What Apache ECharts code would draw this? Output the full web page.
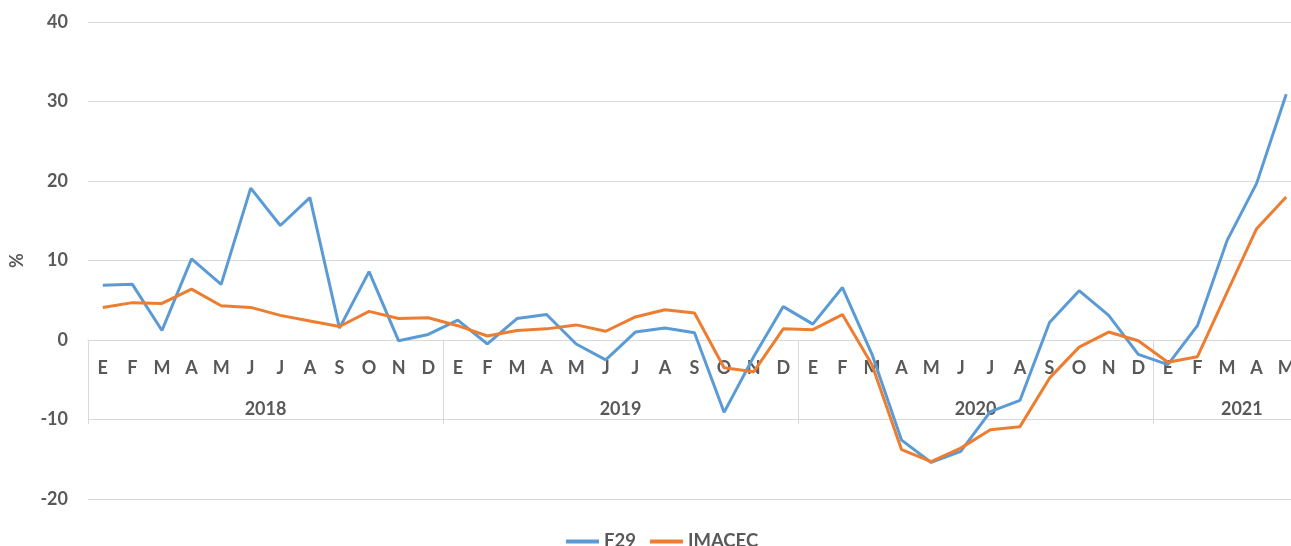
<!DOCTYPE html>
<html>
<head>
<meta charset="utf-8">
<title>F29 vs IMACEC</title>
<script src="https://cdn.jsdelivr.net/npm/echarts@6/dist/echarts.min.js"></script>
<style>
  html, body {
    margin: 0;
    padding: 0;
    background: #fff;
  }
  #char {
    width: 1291px;
    height: 546px;
  }
</style>
</head>
<body>
<div id="char"></div>
<script>
// meses (E = enero ... D = diciembre)
const monthLabels = [
  'E', 'F', 'M', 'A', 'M', 'J', 'J', 'A', 'S', 'O', 'N', 'D',
  'E', 'F', 'M', 'A', 'M', 'J', 'J', 'A', 'S', 'O', 'N', 'D',
  'E', 'F', 'M', 'A', 'M', 'J', 'J', 'A', 'S', 'O', 'N', 'D',
  'E', 'F', 'M', 'A', 'M'
]
const yearLabels = ['2018', '2019', '2020', '2021']
const yearSpans = [12, 12, 12, 5]

const f29 = [
  6.9, 7.0, 1.2, 10.2, 7.0, 19.1, 14.4, 17.9, 1.5, 8.6, -0.1, 0.7,
  2.5, -0.5, 2.7, 3.2, -0.5, -2.5, 1.0, 1.5, 0.9, -9.1, -2.1, 4.2,
  2.0, 6.6, -1.8, -12.6, -15.4, -14.0, -9.0, -7.6, 2.2, 6.2, 3.1, -1.8,
  -3.1, 1.8, 12.5, 19.7, 30.9
]
const imacec = [
  4.1, 4.7, 4.6, 6.4, 4.3, 4.1, 3.1, 2.4, 1.7, 3.6, 2.7, 2.8,
  1.8, 0.5, 1.2, 1.4, 1.9, 1.1, 2.9, 3.8, 3.4, -3.5, -4.0, 1.4,
  1.3, 3.2, -3.1, -13.8, -15.3, -13.6, -11.3, -10.9, -4.8, -0.9, 1.0, -0.1,
  -2.8, -2.1, 6.0, 14.0, 18.0
]

const yTicks = { min: -20, max: 40, interval: 10 }

// where each year starts and where its label goes
let yearStart = {}, yearMid = {}, pos = 0
yearSpans.forEach((n, i) => {
  yearStart[pos] = yearLabels[i]
  yearMid[pos + Math.floor((n - 1) / 2)] = yearLabels[i]
  pos += n
})
const cats = monthLabels.map((m, i) => i + '_' + m)

const txtColor = '#595959'
const gridColor = '#d9d9d9'
const font = 'Lato, "Open Sans", sans-serif'
const fs = 18

const gridH = 477
const gridW = 1213
const catW = gridW / monthLabels.length
// the category axes sit on the 0 line, moved up from the bottom of the grid
const zeroOffset = -gridH * (0 - yTicks.min) / (yTicks.max - yTicks.min)

const chart = echarts.init(document.getElementById('char'))
chart.setOption({
  animation: false,
  backgroundColor: '#fff',
  textStyle: { fontFamily: font },
  grid: { left: 88, top: 22, width: gridW, height: gridH, outerBoundsMode: 'none', containLabel: false },
  legend: {
    top: 527,
    left: 561,
    itemWidth: 33,
    itemHeight: 4,
    itemGap: 14,
    icon: 'rect',
    textStyle: { color: txtColor, fontSize: 18.5, fontWeight: 'bold', fontFamily: font },
    data: ['F29', 'IMACEC']
  },
  xAxis: [{
    type: 'category',
    data: cats,
    position: 'bottom',
    offset: zeroOffset,
    axisLine: { onZero: false, lineStyle: { color: gridColor, width: 1 } },
    axisTick: { show: false },
    axisLabel: {
      interval: 0,
      margin: 19,
      color: txtColor,
      fontSize: fs,
      fontWeight: 'bold',
      formatter: (v, i) => monthLabels[i]
    }
  }, {
    // fila de años
    type: 'category',
    data: cats,
    position: 'bottom',
    offset: zeroOffset,
    axisLine: { onZero: false, lineStyle: { color: gridColor, width: 1 } },
    axisTick: {
      show: true,
      length: 84,
      interval: (i) => yearStart[i] !== undefined,
      lineStyle: { color: gridColor, width: 1 }
    },
    axisLabel: {
      interval: (i) => yearMid[i] !== undefined,
      margin: 60,
      color: txtColor,
      fontSize: fs,
      fontWeight: 'bold',
      padding: [0, 0, 0, catW],
      formatter: (v, i) => yearMid[i] || ''
    }
  }],
  yAxis: {
    type: 'value',
    min: yTicks.min,
    max: yTicks.max,
    interval: yTicks.interval,
    name: '%',
    nameLocation: 'middle',
    nameGap: 62,
    nameRotate: 90,
    nameTextStyle: { color: txtColor, fontSize: fs, fontWeight: 'bold' },
    axisLine: { show: false },
    axisTick: { show: false },
    axisLabel: { margin: 20, color: txtColor, fontSize: fs, fontWeight: 'bold' },
    splitLine: { lineStyle: { color: gridColor, width: 1 } }
  },
  series: [{
    name: 'F29',
    type: 'line',
    data: f29,
    showSymbol: false,
    symbol: 'none',
    lineStyle: { color: '#5B9BD5', width: 3 },
    itemStyle: { color: '#5B9BD5' }
  }, {
    name: 'IMACEC',
    type: 'line',
    data: imacec,
    showSymbol: false,
    symbol: 'none',
    lineStyle: { color: '#ED7D31', width: 3 },
    itemStyle: { color: '#ED7D31' }
  }]
})
</script>
</body>
</html>
